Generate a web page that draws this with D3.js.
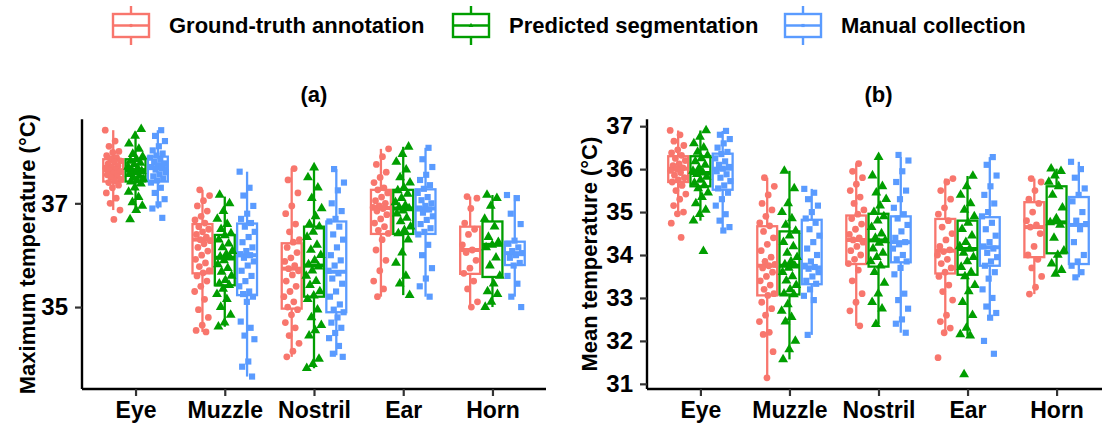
<!DOCTYPE html>
<html lang="en">
<head>
<meta charset="utf-8">
<title>Temperature boxplots</title>
<script src="https://cdn.jsdelivr.net/npm/d3@7/dist/d3.min.js"></script>
<style>
  body { margin: 0; background: #fff; }
  svg { display: block; font-family: "Liberation Sans", Arial, sans-serif; font-weight: bold; }
</style>
</head>
<body>
<svg id="chart" width="1102" height="429"></svg>
<script>
const categories = ['Eye', 'Muzzle', 'Nostril', 'Ear', 'Horn']
const seriesNames = ['Ground-truth annotation', 'Predicted segmentation', 'Manual collection']
const colors = ['#F8766D', '#009E00', '#5A9BFF']

// box stats per category: [lower whisker, q1, median, q3, upper whisker]
const maxGroundBox = [[36.87, 37.42, 37.64, 37.85, 38.41], [34.52, 35.65, 36.3, 36.6, 37.26], [34.04, 34.97, 35.74, 36.23, 37.67], [35.2, 36.41, 36.91, 37.26, 38.05], [35.0, 35.64, 36.1, 36.55, 37.13]]
const maxPredBox = [[36.87, 37.42, 37.64, 37.85, 38.38], [34.62, 35.42, 35.95, 36.39, 37.13], [33.82, 35.2, 35.8, 36.55, 37.69], [35.23, 36.41, 36.9, 37.26, 38.09], [35.0, 35.58, 36.2, 36.65, 37.16]]
const maxManualBox = [[36.9, 37.42, 37.68, 37.9, 38.41], [33.66, 35.23, 36.0, 36.61, 37.61], [34.07, 34.9, 35.68, 36.65, 37.66], [35.2, 36.41, 36.9, 37.27, 38.07], [35.2, 35.81, 36.04, 36.26, 37.16]]

const meanGroundBox = [[34.96, 35.7, 36.01, 36.3, 36.9], [31.14, 33.06, 33.75, 34.67, 35.8], [32.35, 33.79, 34.35, 34.92, 36.13], [32.19, 33.57, 34.1, 34.84, 35.78], [33.09, 33.95, 34.65, 35.23, 35.78]]
const meanPredBox = [[34.8, 35.6, 35.91, 36.3, 36.9], [31.57, 33.08, 33.75, 34.55, 35.96], [32.39, 33.73, 34.34, 34.96, 36.28], [32.12, 33.54, 34.14, 34.8, 35.84], [33.56, 34.04, 34.76, 35.6, 36.01]]
const meanManualBox = [[34.57, 35.52, 36.01, 36.36, 36.89], [32.14, 33.32, 33.71, 34.82, 35.54], [32.19, 33.83, 34.3, 34.9, 36.28], [32.54, 33.75, 34.18, 34.88, 36.28], [33.48, 33.79, 34.7, 35.35, 36.17]]

// individual observations, one list per category
const maxGroundPts = [
  [38.41, 38.2, 38.1, 38.0, 37.98, 37.92, 37.88, 37.86, 37.82, 37.8, 37.76, 37.72, 37.7, 37.68, 37.65, 37.63, 37.6, 37.58, 37.55, 37.52, 37.5, 37.46, 37.43, 37.4, 37.35, 37.3, 37.2, 37.1, 37.0, 36.87, 36.69],
  [37.26, 37.15, 37.05, 36.95, 36.85, 36.75, 36.68, 36.62, 36.55, 36.5, 36.45, 36.4, 36.35, 36.3, 36.28, 36.22, 36.15, 36.08, 36.0, 35.92, 35.85, 35.78, 35.7, 35.66, 35.6, 35.5, 35.4, 35.3, 35.15, 34.95, 34.8, 34.65, 34.55, 34.52],
  [37.67, 37.45, 37.2, 36.95, 36.8, 36.6, 36.45, 36.3, 36.25, 36.15, 36.05, 35.95, 35.88, 35.8, 35.74, 35.7, 35.62, 35.5, 35.4, 35.3, 35.2, 35.1, 35.0, 34.95, 34.85, 34.7, 34.6, 34.45, 34.3, 34.15, 34.04],
  [38.05, 37.9, 37.75, 37.6, 37.5, 37.4, 37.3, 37.26, 37.2, 37.12, 37.05, 37.0, 36.95, 36.92, 36.9, 36.85, 36.78, 36.7, 36.62, 36.55, 36.48, 36.42, 36.3, 36.1, 35.9, 35.7, 35.5, 35.35, 35.2],
  [37.13, 37.1, 36.9, 36.62, 36.5, 36.4, 36.2, 36.1, 36.05, 35.9, 35.75, 35.65, 35.5, 35.35, 35.1, 35.0]
]
const maxPredPts = [
  [38.43, 38.3, 38.15, 38.05, 37.95, 37.9, 37.85, 37.82, 37.78, 37.75, 37.7, 37.67, 37.64, 37.62, 37.6, 37.56, 37.53, 37.5, 37.47, 37.44, 37.42, 37.38, 37.3, 37.22, 37.12, 37.02, 36.95, 36.87, 36.69],
  [37.16, 37.0, 36.85, 36.7, 36.6, 36.5, 36.42, 36.38, 36.3, 36.22, 36.15, 36.08, 36.02, 35.97, 35.95, 35.9, 35.82, 35.75, 35.68, 35.6, 35.52, 35.45, 35.42, 35.35, 35.25, 35.15, 35.0, 34.85, 34.7, 34.62],
  [37.69, 37.5, 37.3, 37.1, 36.9, 36.75, 36.6, 36.55, 36.45, 36.35, 36.2, 36.1, 36.0, 35.9, 35.82, 35.78, 35.7, 35.6, 35.5, 35.42, 35.3, 35.22, 35.15, 34.95, 34.8, 34.65, 34.55, 34.45, 34.0, 33.9, 33.82],
  [38.09, 37.95, 37.8, 37.65, 37.5, 37.4, 37.3, 37.25, 37.18, 37.1, 37.02, 36.96, 36.92, 36.9, 36.86, 36.8, 36.72, 36.65, 36.55, 36.48, 36.42, 36.3, 36.05, 35.85, 35.6, 35.45, 35.23],
  [37.16, 37.1, 36.95, 36.7, 36.55, 36.35, 36.25, 36.2, 36.15, 35.95, 35.8, 35.6, 35.45, 35.3, 35.25, 35.1, 35.0]
]
const maxManualPts = [
  [38.41, 38.3, 38.2, 38.1, 38.02, 37.96, 37.92, 37.88, 37.84, 37.8, 37.77, 37.73, 37.7, 37.68, 37.65, 37.6, 37.56, 37.52, 37.48, 37.44, 37.4, 37.3, 37.2, 37.08, 36.98, 36.9, 36.72],
  [37.61, 37.3, 37.15, 36.95, 36.8, 36.7, 36.62, 36.55, 36.45, 36.35, 36.25, 36.15, 36.08, 36.02, 36.0, 35.95, 35.88, 35.8, 35.7, 35.6, 35.5, 35.4, 35.3, 35.25, 35.2, 35.1, 34.72, 34.6, 34.45, 34.38, 33.95, 33.85, 33.66],
  [37.66, 37.4, 37.25, 37.0, 36.85, 36.7, 36.65, 36.55, 36.4, 36.3, 36.15, 36.0, 35.9, 35.8, 35.7, 35.65, 35.55, 35.45, 35.3, 35.2, 35.05, 34.95, 34.9, 34.8, 34.7, 34.6, 34.5, 34.4, 34.25, 34.1, 34.04],
  [38.07, 37.85, 37.7, 37.55, 37.45, 37.35, 37.28, 37.2, 37.12, 37.06, 37.0, 36.95, 36.9, 36.88, 36.82, 36.75, 36.68, 36.6, 36.52, 36.45, 36.4, 36.2, 36.0, 35.75, 35.55, 35.4, 35.2],
  [37.16, 37.1, 36.8, 36.6, 36.28, 36.22, 36.15, 36.08, 36.04, 36.0, 35.95, 35.85, 35.8, 35.6, 35.45, 35.2, 35.0]
]

const meanGroundPts = [
  [36.9, 36.8, 36.65, 36.55, 36.45, 36.38, 36.32, 36.25, 36.2, 36.12, 36.08, 36.03, 36.0, 35.97, 35.92, 35.86, 35.8, 35.75, 35.7, 35.62, 35.5, 35.42, 35.3, 35.15, 35.0, 34.96, 34.74, 34.41],
  [35.8, 35.6, 35.4, 35.2, 35.05, 34.9, 34.75, 34.68, 34.55, 34.4, 34.25, 34.1, 33.95, 33.85, 33.78, 33.75, 33.7, 33.6, 33.5, 33.4, 33.3, 33.2, 33.1, 33.06, 32.9, 32.75, 32.6, 32.45, 32.2, 32.15, 31.75, 31.14],
  [36.13, 35.95, 35.8, 35.65, 35.5, 35.35, 35.2, 35.05, 34.95, 34.85, 34.72, 34.6, 34.48, 34.4, 34.35, 34.3, 34.2, 34.1, 34.0, 33.9, 33.8, 33.65, 33.4, 33.1, 32.9, 32.7, 32.35],
  [35.78, 35.7, 35.5, 35.3, 35.1, 34.95, 34.8, 34.65, 34.5, 34.35, 34.2, 34.12, 34.08, 34.0, 33.9, 33.8, 33.7, 33.6, 33.5, 33.3, 33.15, 32.95, 32.6, 32.45, 32.3, 32.19, 31.61],
  [35.78, 35.7, 35.5, 35.3, 35.2, 35.0, 34.8, 34.7, 34.65, 34.5, 34.2, 34.0, 33.9, 33.7, 33.5, 33.25, 33.09]
]
const meanPredPts = [
  [36.9, 36.75, 36.6, 36.5, 36.4, 36.32, 36.25, 36.18, 36.1, 36.02, 35.96, 35.92, 35.88, 35.82, 35.75, 35.68, 35.62, 35.55, 35.45, 35.35, 35.2, 35.05, 34.95, 34.8, 34.09],
  [35.96, 35.55, 35.2, 35.0, 34.85, 34.7, 34.56, 34.45, 34.3, 34.2, 34.05, 33.95, 33.85, 33.78, 33.75, 33.7, 33.6, 33.5, 33.4, 33.3, 33.2, 33.1, 33.08, 32.85, 32.7, 32.55, 32.45, 32.0, 31.8, 31.57],
  [36.28, 35.85, 35.6, 35.45, 35.3, 35.15, 35.0, 34.9, 34.8, 34.65, 34.5, 34.4, 34.34, 34.28, 34.15, 34.05, 33.95, 33.85, 33.75, 33.6, 33.35, 33.1, 32.9, 32.75, 32.39],
  [35.84, 35.6, 35.4, 35.2, 35.05, 34.9, 34.75, 34.6, 34.45, 34.3, 34.2, 34.14, 34.05, 33.95, 33.85, 33.72, 33.6, 33.5, 33.3, 33.15, 32.9, 32.6, 32.3, 32.15, 32.12, 31.22],
  [36.01, 35.95, 35.85, 35.7, 35.6, 35.4, 35.1, 34.85, 34.76, 34.7, 34.4, 34.1, 34.0, 33.8, 33.65, 33.56]
]
const meanManualPts = [
  [36.89, 36.8, 36.7, 36.6, 36.5, 36.4, 36.35, 36.25, 36.18, 36.1, 36.05, 36.01, 35.95, 35.88, 35.8, 35.72, 35.62, 35.55, 35.45, 35.3, 35.15, 34.95, 34.8, 34.65, 34.57],
  [35.54, 35.45, 35.3, 35.15, 35.0, 34.85, 34.75, 34.6, 34.45, 34.3, 34.15, 34.0, 33.85, 33.75, 33.72, 33.68, 33.6, 33.5, 33.4, 33.33, 33.2, 33.05, 32.95, 32.14],
  [36.33, 36.2, 35.95, 35.7, 35.5, 35.3, 35.1, 34.95, 34.85, 34.7, 34.55, 34.4, 34.3, 34.25, 34.15, 34.0, 33.9, 33.85, 33.7, 33.55, 33.1, 32.95, 32.75, 32.5, 32.4, 32.19],
  [36.28, 36.1, 35.85, 35.6, 35.4, 35.2, 35.0, 34.9, 34.75, 34.6, 34.45, 34.3, 34.2, 34.15, 34.05, 33.95, 33.85, 33.75, 33.6, 33.45, 33.2, 33.0, 32.8, 32.65, 32.54, 32.0, 31.7],
  [36.17, 36.0, 35.8, 35.55, 35.4, 35.25, 35.0, 34.8, 34.72, 34.6, 34.3, 34.0, 33.85, 33.75, 33.6, 33.48]
]

const maxTicks = [35, 37]
const meanTicks = [31, 32, 33, 34, 35, 36, 37]

const svg = d3.select('#chart')
const symbols = [d3.symbolCircle, d3.symbolTriangle, d3.symbolSquare]
const symbolSizes = [36, 42, 38]

const panels = [
  { title: '(a)', yLabel: 'Maximum temperature (°C)', left: 82, right: 546, labelX: 27,
    yDomain: [33.42, 38.62], ticks: maxTicks,
    boxes: [maxGroundBox, maxPredBox, maxManualBox], points: [maxGroundPts, maxPredPts, maxManualPts] },
  { title: '(b)', yLabel: 'Mean temperature (°C)', left: 647, right: 1110, labelX: 589,
    yDomain: [30.88, 37.16], ticks: meanTicks,
    boxes: [meanGroundBox, meanPredBox, meanManualBox], points: [meanGroundPts, meanPredPts, meanManualPts] }
]

const plotTop = 119.3, plotBottom = 389

// deterministic horizontal spread for the jittered points
const jitter = i => (((i * 0.6180339) % 1) - 0.5) * 16

panels.forEach(p => {
  const g = svg.append('g')
  const x = d3.scalePoint().domain(categories).range([p.left, p.right]).padding(0.6)
  const y = d3.scaleLinear().domain(p.yDomain).range([plotBottom, plotTop])
  const dodge = x.step() * 0.25
  const bw = dodge

  // boxes
  p.boxes.forEach((series, s) => {
    const gb = g.append('g')
    series.forEach((b, i) => {
      const bx = x(categories[i]) + (s - 1) * dodge
      gb.append('line').attr('x1', bx).attr('x2', bx).attr('y1', y(b[0])).attr('y2', y(b[1]))
        .attr('stroke', colors[s]).attr('stroke-width', 2.3)
      gb.append('line').attr('x1', bx).attr('x2', bx).attr('y1', y(b[3])).attr('y2', y(b[4]))
        .attr('stroke', colors[s]).attr('stroke-width', 2.3)
      gb.append('rect').attr('x', bx - bw / 2 + 1.2).attr('width', bw - 2.4)
        .attr('y', y(b[3])).attr('height', y(b[1]) - y(b[3]))
        .attr('fill', '#fff').attr('stroke', colors[s]).attr('stroke-width', 2.3)
      gb.append('line').attr('x1', bx - bw / 2 + 1.2).attr('x2', bx + bw / 2 - 1.2)
        .attr('y1', y(b[2])).attr('y2', y(b[2]))
        .attr('stroke', colors[s]).attr('stroke-width', 4)
    })
  })

  // points
  p.points.forEach((series, s) => {
    const sym = d3.symbol().type(symbols[s]).size(symbolSizes[s])
    series.forEach((vals, i) => {
      const base = x(categories[i]) + (s - 1) * dodge
      g.append('g').selectAll('path')
        .data(vals)
        .join('path')
        .attr('d', sym)
        .attr('fill', colors[s])
        .attr('transform', (d, k) => 'translate(' + (base + jitter(k + i * 7 + s * 3)) + ',' + y(d) + ')')
    })
  })

  // axes
  const yAxis = d3.axisLeft(y).tickValues(p.ticks).tickFormat(d3.format('d')).tickSize(7).tickPadding(7)
  const ya = g.append('g').attr('transform', 'translate(' + p.left + ',0)').call(yAxis)
  ya.select('.domain').attr('d', 'M0,' + plotTop + 'V' + plotBottom).attr('stroke', '#000').attr('stroke-width', 2.4)
  ya.selectAll('.tick line').attr('stroke', '#333').attr('stroke-width', 2.2)
  ya.selectAll('.tick text').attr('font-size', 24).attr('font-weight', 'bold').attr('fill', '#000')
    .attr('font-family', '"Liberation Sans", Arial, sans-serif')

  const xAxis = d3.axisBottom(x).tickSize(7).tickPadding(6)
  const xa = g.append('g').attr('transform', 'translate(0,' + plotBottom + ')').call(xAxis)
  xa.select('.domain').attr('d', 'M' + p.left + ',0H' + p.right).attr('stroke', '#000').attr('stroke-width', 2.4)
  xa.selectAll('.tick line').attr('stroke', '#333').attr('stroke-width', 2.2)
  xa.selectAll('.tick text').attr('font-size', 23).attr('font-weight', 'bold').attr('fill', '#000')
    .attr('font-family', '"Liberation Sans", Arial, sans-serif')

  g.append('text').attr('x', (p.left + p.right) / 2).attr('y', 102)
    .attr('text-anchor', 'middle').attr('font-size', 22).text(p.title)

  g.append('text').attr('transform', 'translate(' + p.labelX + ',' + ((plotTop + plotBottom) / 2) + ') rotate(-90)')
    .attr('text-anchor', 'middle').attr('dy', '0.35em').attr('font-size', 22).text(p.yLabel)
})

// legend
const legendX = [131, 471, 803]
const legend = svg.append('g')
seriesNames.forEach((name, s) => {
  const cx = legendX[s]
  const k = legend.append('g')
  k.append('line').attr('x1', cx).attr('x2', cx).attr('y1', 6).attr('y2', 45)
    .attr('stroke', colors[s]).attr('stroke-width', 2.4)
  k.append('rect').attr('x', cx - 18).attr('y', 14).attr('width', 36).attr('height', 23)
    .attr('fill', '#fff').attr('stroke', colors[s]).attr('stroke-width', 2.4)
  k.append('line').attr('x1', cx - 18).attr('x2', cx + 18).attr('y1', 25.5).attr('y2', 25.5)
    .attr('stroke', colors[s]).attr('stroke-width', 2.4)
  k.append('path').attr('d', d3.symbol().type(symbols[s]).size(10))
    .attr('fill', colors[s]).attr('transform', 'translate(' + cx + ',25.5)')
  k.append('text').attr('x', legendX[s] + 38).attr('y', 25.5).attr('dy', '0.35em')
    .attr('font-size', 22).text(name)
})
</script>
</body>
</html>
